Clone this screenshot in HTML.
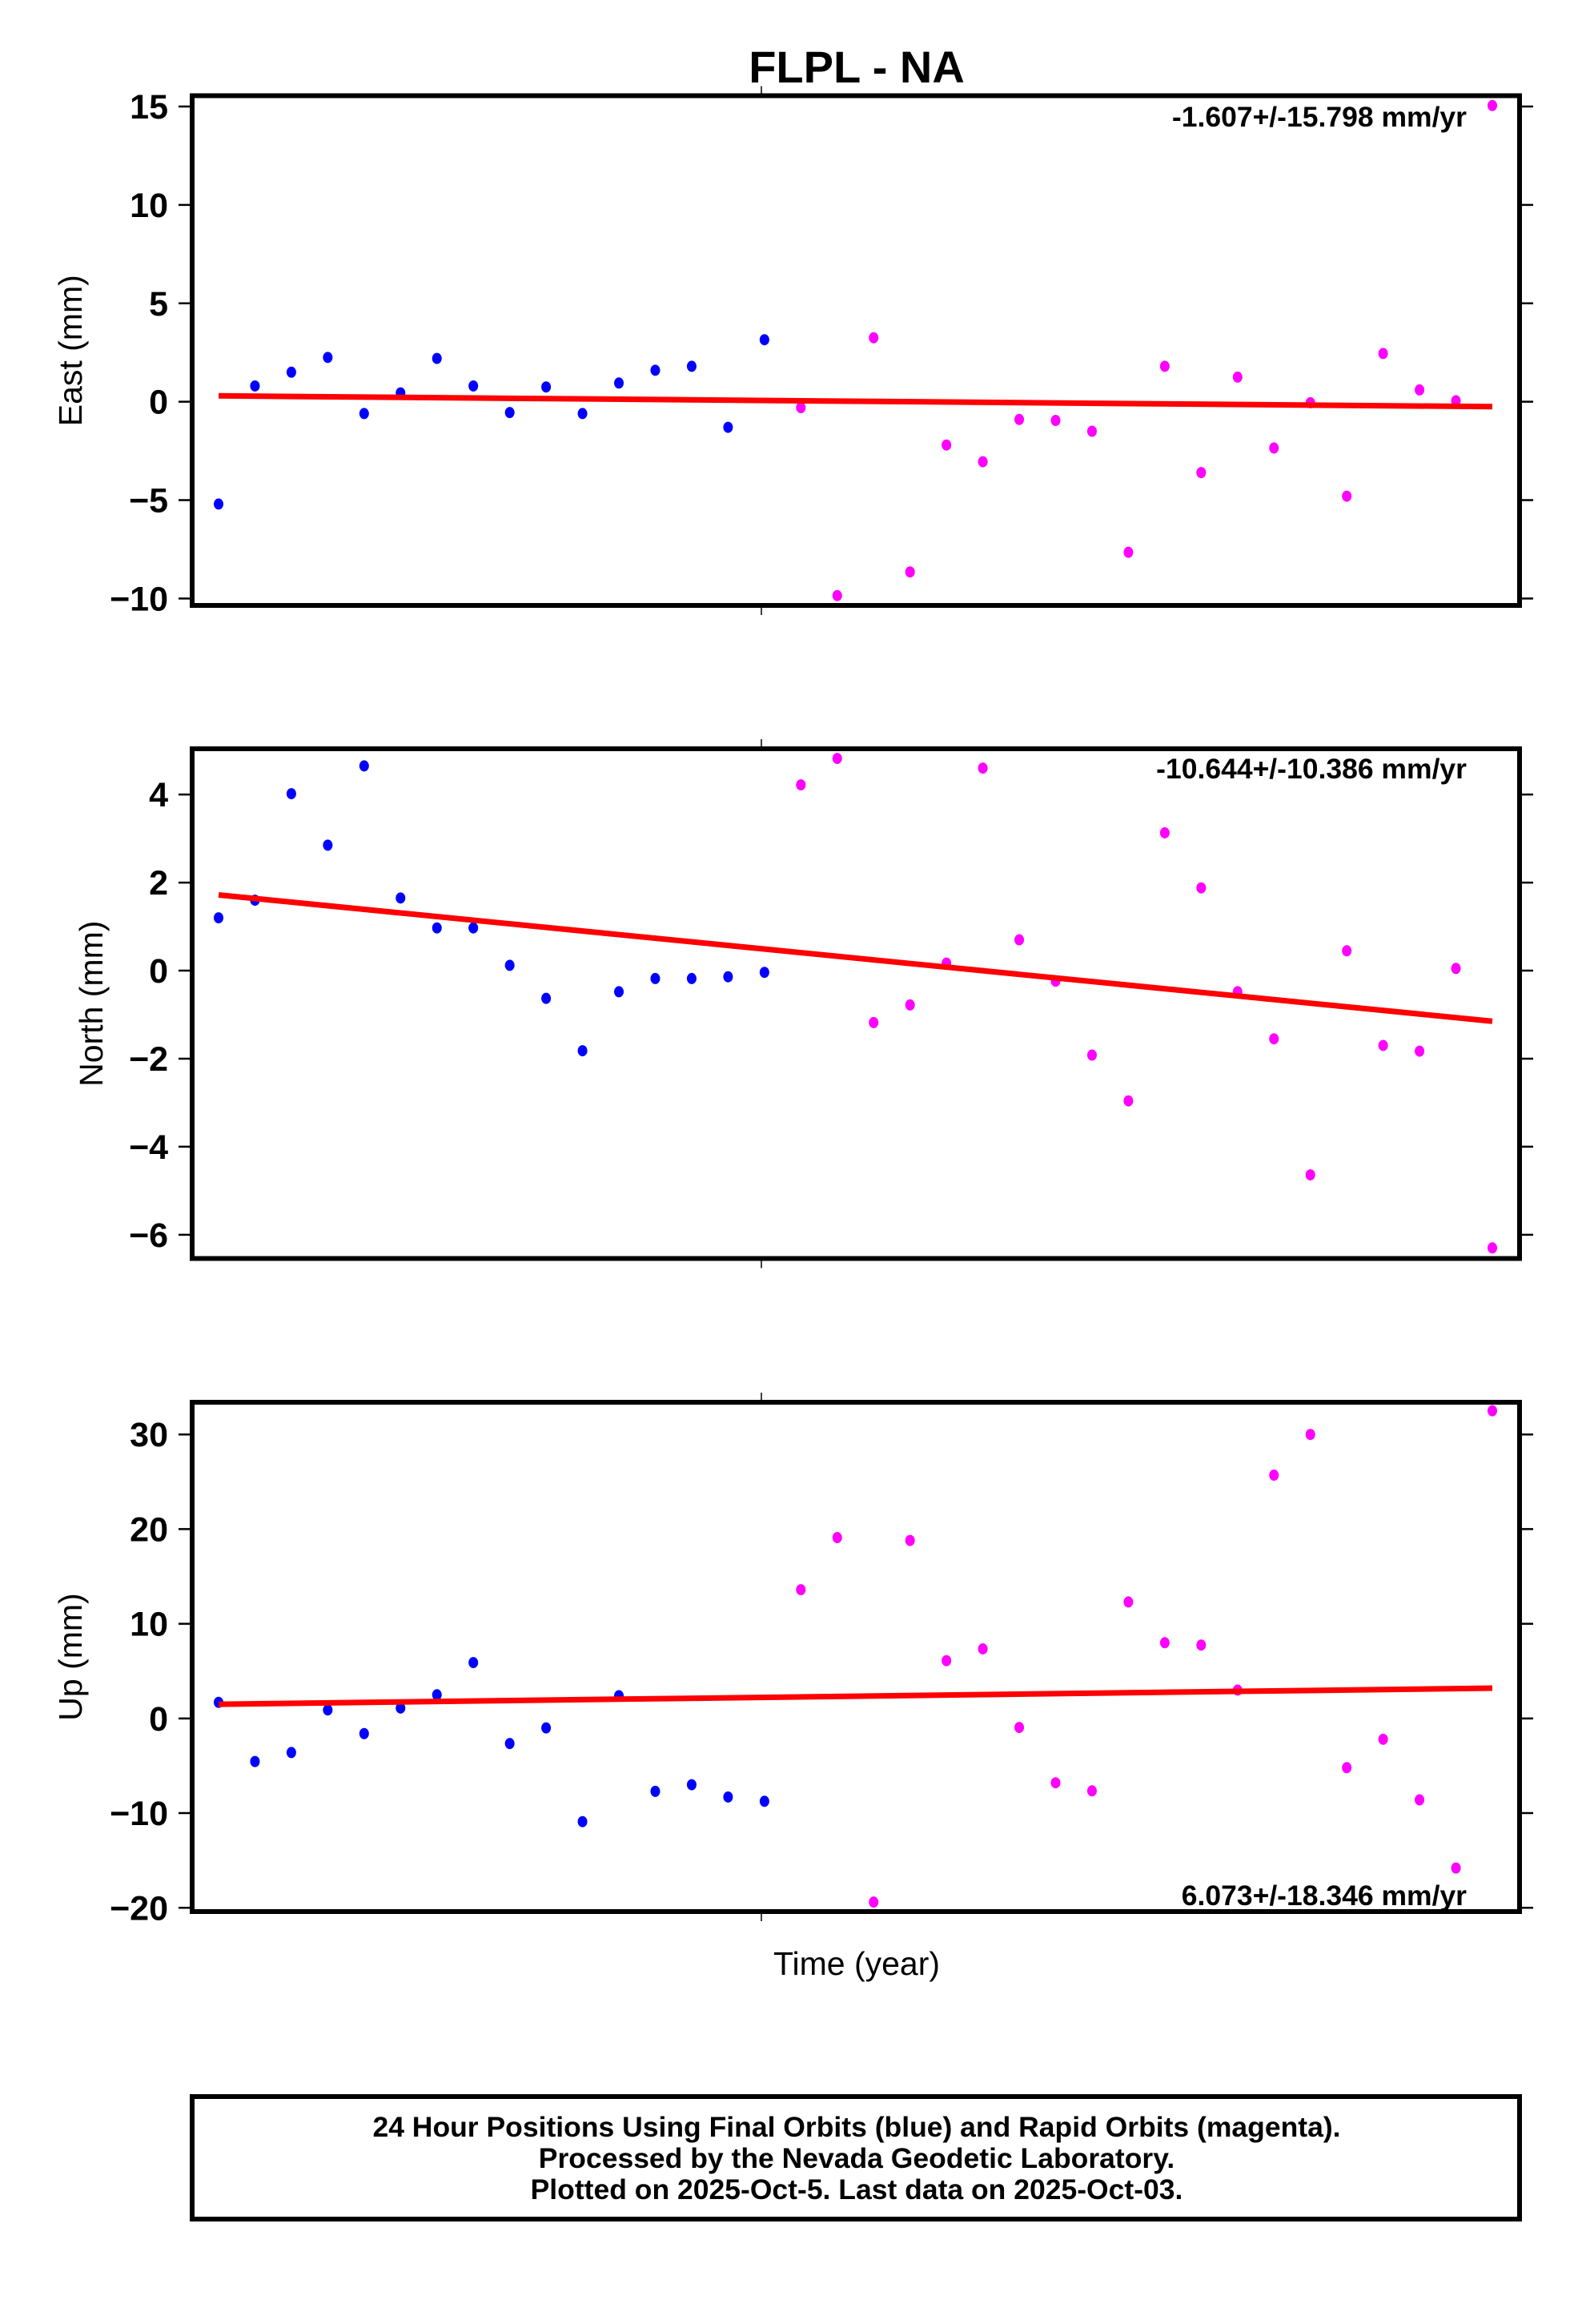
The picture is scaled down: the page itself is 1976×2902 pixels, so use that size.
<!DOCTYPE html>
<html><head><meta charset="utf-8"><style>
html,body{margin:0;padding:0;background:#fff;}
svg{display:block;font-family:"Liberation Sans",Arial,sans-serif;}
</style></head><body>
<svg id="c" width="1976" height="2902" viewBox="0 0 1976 2902" xmlns="http://www.w3.org/2000/svg">
<rect width="1976" height="2902" fill="#fff"/>
<text x="1070" y="103" font-size="56" font-weight="bold" text-anchor="middle">FLPL - NA</text>
<g id="panels"></g>
<text x="1070" y="2466" font-size="41" text-anchor="middle">Time (year)</text>
<rect x="240" y="2618" width="1658" height="153" fill="none" stroke="#000" stroke-width="6"/>
<text x="1070" y="2668" font-size="35.5" font-weight="bold" text-anchor="middle">24 Hour Positions Using Final Orbits (blue) and Rapid Orbits (magenta).</text>
<text x="1070" y="2707" font-size="35.5" font-weight="bold" text-anchor="middle">Processed by the Nevada Geodetic Laboratory.</text>
<text x="1070" y="2746" font-size="35.5" font-weight="bold" text-anchor="middle">Plotted on 2025-Oct-5. Last data on 2025-Oct-03.</text>
</svg>
<script>
const eastValues=[-5.2,0.8,1.5,2.25,-0.6,0.45,2.2,0.8,-0.55,0.75,-0.6,0.95,1.6,1.8,-1.3,3.15,-0.3,-9.85,3.25,-8.65,-2.2,-3.05,-0.9,-0.95,-1.5,-7.65,1.8,-3.6,1.25,-2.35,-0.05,-4.8,2.45,0.6,0.05,15.05];
const northValues=[1.2,1.6,4.02,2.85,4.65,1.65,0.97,0.97,0.12,-0.63,-1.82,-0.48,-0.18,-0.18,-0.14,-0.04,4.22,4.82,-1.18,-0.78,0.17,4.6,0.7,-0.24,-1.92,-2.96,3.13,1.88,-0.48,-1.55,-4.64,0.45,-1.7,-1.83,0.05,-6.3];
const upValues=[1.7,-4.55,-3.6,0.9,-1.6,1.1,2.5,5.9,-2.65,-1.0,-10.9,2.4,-7.7,-7.0,-8.3,-8.75,13.6,19.1,-19.4,18.8,6.1,7.35,-0.95,-6.8,-7.65,12.3,8.0,7.75,3.0,25.7,30.0,-5.2,-2.2,-8.6,-15.8,32.5];
const finalCount=16;
const eastTrend=[0.3,-0.25];
const northTrend=[1.72,-1.15];
const upTrend=[1.5,3.2];
const eastTicks=[15,10,5,0,-5,-10];
const northTicks=[4,2,0,-2,-4,-6];
const upTicks=[30,20,10,0,-10,-20];
const eastRate="-1.607+/-15.798 mm/yr";
const northRate="-10.644+/-10.386 mm/yr";
const upRate="6.073+/-18.346 mm/yr";

const NS="http://www.w3.org/2000/svg";
const root=document.getElementById('panels');
const L=240,R=1898;
const X0=273,X1=1864;
function xScale(i,n){return X0+(X1-X0)*i/(n-1);}
function mk(tag,attrs,parent){const e=document.createElementNS(NS,tag);for(const k in attrs)e.setAttribute(k,attrs[k]);(parent||root).appendChild(e);return e;}

function panel(name,top,bot,vmax,vmin,ticks,vals,trend,title,titleX,rate,rateY){
  const g=mk('g',{});
  
  
  const y=v=>top+(vmax-v)/(vmax-vmin)*(bot-top);
  ticks.forEach(t=>{
    const ty=y(t);
    const l1=mk('line',{x1:L-17,x2:L,y1:ty,y2:ty,stroke:'#000','stroke-width':2.5},g);
    
    
    const l2=mk('line',{x1:R,x2:R+17,y1:ty,y2:ty,stroke:'#000','stroke-width':2.5},g);
    
    
    const tx=mk('text',{x:L-30,y:ty+15,'font-size':43,'font-weight':'bold','text-anchor':'end'},g);
    tx.textContent=(t<0?'\u2212'+(-t):String(t));
    
    
  });
  const mt=mk('line',{x1:951,x2:951,y1:top-12,y2:top,stroke:'#000','stroke-width':1.5},g);
  
  
  const mb=mk('line',{x1:951,x2:951,y1:bot,y2:bot+12,stroke:'#000','stroke-width':1.5},g);
  
  
  const n=vals.length;
  vals.forEach((v,i)=>{
    const c=mk('ellipse',{cx:xScale(i,n),cy:y(v),rx:6,ry:7,fill:i<finalCount?'#0000ff':'#ff00ff'},g);
    
    
  });
  const tl=mk('line',{x1:xScale(0,n),x2:xScale(n-1,n),y1:y(trend[0]),y2:y(trend[1]),stroke:'#ff0000','stroke-width':7},g);
  
  
  const fr=mk('rect',{x:L,y:top,width:R-L,height:bot-top,fill:'none',stroke:'#000','stroke-width':6},g);
  
  
  const rt=mk('text',{x:1832,y:rateY,'font-size':35.5,'font-weight':'bold','text-anchor':'end'},g);
  rt.textContent=rate;
  
  
  const cy=(top+bot)/2;
  const at=mk('text',{x:titleX,y:cy,'font-size':41,'text-anchor':'middle',transform:'rotate(-90 '+titleX+' '+cy+')'},g);
  at.textContent=title;
  
  
}
panel('east',119.5,756,15.55,-10.35,eastTicks,eastValues,eastTrend,'East (mm)',102,eastRate,158);
panel('north',935,1571.5,5.04,-6.54,northTicks,northValues,northTrend,'North (mm)',128,northRate,972);
panel('up',1751,2387,33.4,-20.4,upTicks,upValues,upTrend,'Up (mm)',102,upRate,2379);
</script>
</body></html>
